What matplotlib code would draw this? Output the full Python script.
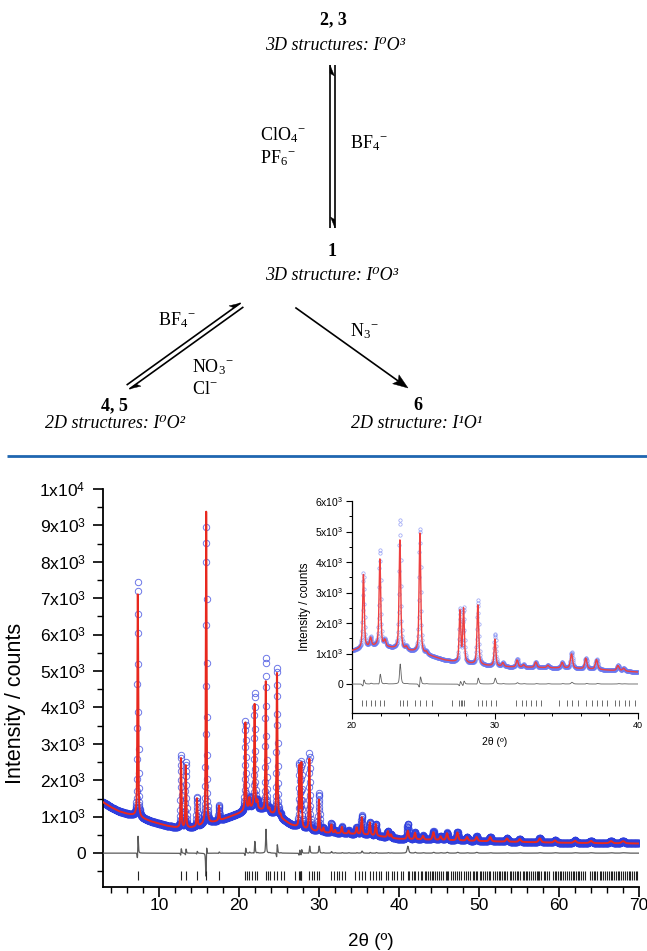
import numpy as np
import matplotlib
matplotlib.use('Agg')
import matplotlib.pyplot as plt
from matplotlib.patches import Polygon
from matplotlib.ticker import MultipleLocator

plt.rcParams['font.family'] = ['Liberation Sans', 'DejaVu Sans']
plt.rcParams['mathtext.fontset'] = 'custom'
plt.rcParams['mathtext.rm'] = 'Liberation Serif'
plt.rcParams['mathtext.it'] = 'Liberation Serif:italic'
plt.rcParams['mathtext.bf'] = 'Liberation Serif:bold'
plt.rcParams['mathtext.sf'] = 'Liberation Sans'

# ---------------- data ----------------
# background of the pattern (2theta, counts)
bg_x = [3, 4, 5, 6, 7, 8, 9, 10, 11, 12, 13, 14, 15, 16, 17, 18, 19, 20, 21,
        21.8, 22.5, 23.5, 24.5, 25.5, 26.5, 27.5, 28.5, 29.5, 31, 33, 35, 37,
        40, 45, 50, 55, 60, 65, 70]
bg_y = [1400, 1260, 1150, 1080, 1030, 950, 870, 810, 750, 710, 690, 700, 740,
        800, 860, 930, 1010, 1090, 1200, 1250, 1200, 1120, 1050, 920, 780, 700,
        650, 600, 560, 540, 520, 480, 390, 360, 330, 305, 285, 272, 265]

# reflections: position, calculated height, observed height (above background), FWHM
peak_pos = [7.35, 12.75, 13.35, 14.75, 15.90, 17.50, 20.80, 21.30, 21.95, 22.30,
            23.35, 23.80, 24.75, 25.20, 27.55, 27.80, 28.80, 30.00, 30.55, 31.55,
            32.00, 32.85, 33.70, 34.70, 35.35, 36.35, 37.10, 38.60, 39.00, 41.10,
            42.00, 43.00, 44.30, 45.20, 46.00, 47.30, 48.50, 49.70, 51.40, 53.50,
            55.10, 57.60, 59.50, 62.00, 64.00, 66.50, 68.00]
peak_calc = [6250, 1950, 1750, 780, 8580, 400, 2400, 280, 2900, 200,
             3650, 100, 4000, 80, 1700, 1750, 1950, 880, 120, 230,
             80, 180, 80, 180, 470, 350, 320, 170, 90, 230,
             180, 100, 210, 100, 190, 220, 100, 110, 120, 90,
             80, 110, 60, 60, 60, 60, 60]
peak_obs = [6500, 2000, 1800, 800, 8200, 420, 2450, 300, 3150, 210,
            4250, 110, 4100, 90, 1720, 1780, 2100, 1060, 130, 270,
            90, 190, 90, 190, 520, 360, 330, 180, 95, 420,
            200, 110, 230, 110, 210, 240, 110, 130, 130, 100,
            90, 120, 70, 70, 70, 70, 70]
peak_fwhm = [0.12, 0.12, 0.12, 0.12, 0.12, 0.13, 0.13, 0.15, 0.13, 0.15,
             0.13, 0.15, 0.13, 0.15, 0.13, 0.13, 0.14, 0.14, 0.16, 0.16,
             0.16, 0.17, 0.17, 0.18, 0.18, 0.18, 0.19, 0.2, 0.2, 0.22,
             0.22, 0.25, 0.25, 0.25, 0.26, 0.26, 0.28, 0.28, 0.3, 0.3,
             0.32, 0.34, 0.35, 0.38, 0.4, 0.42, 0.45]

# Bragg reflection marks
bragg = [7.35, 12.75, 13.35, 14.75, 15.9, 17.5,
         20.7, 20.95, 21.3, 21.6, 21.95, 22.25, 23.35, 23.6, 23.85, 24.4, 24.75,
         25.2, 25.6, 27.0, 27.5, 27.6, 27.7, 27.8, 28.8, 29.1, 29.4, 29.7, 30.05,
         31.5, 31.9, 32.2, 32.5, 32.85, 33.2, 34.5, 35.0, 35.35, 35.8, 36.35,
         36.8, 37.1, 37.5, 37.8, 38.4, 38.65, 39.1, 39.4, 39.8,
         40.3, 40.55, 41.1, 41.25, 41.6, 41.9, 42.0, 42.35, 42.7, 42.85, 43.2,
         43.4, 43.65, 43.9, 44.1, 44.3, 44.55, 44.8, 45.05, 45.3, 45.45, 45.85,
         46.0, 46.15, 46.55, 46.8, 47.0, 47.3, 47.45, 47.7, 48.1, 48.4, 48.6,
         48.85, 49.2, 49.35, 49.6, 49.8, 50.15, 50.3, 50.5, 50.8, 51.05, 51.25,
         51.4, 51.75, 51.95, 52.2, 52.45, 52.6, 52.9, 53.15, 53.3, 53.5, 53.85,
         54.05, 54.2, 54.5, 54.75, 54.9, 55.1, 55.45, 55.6, 55.85, 56.05, 56.3,
         56.5, 56.75, 56.95, 57.2, 57.4, 57.55, 57.8, 58.1, 58.3, 58.55, 58.7,
         59.25, 59.45, 59.6, 59.9, 60.15, 60.3, 60.55, 60.8, 61.0, 61.2, 61.5,
         61.7, 61.9, 62.15, 62.4, 62.55, 62.8, 63.05, 63.25, 63.9, 64.15, 64.4,
         64.55, 64.8, 65.1, 65.3, 65.5, 65.75, 66.0, 66.2, 66.45, 66.6, 66.9,
         67.1, 67.35, 67.5, 67.8, 68.0, 68.2, 68.45, 68.7, 68.9, 69.1, 69.35,
         69.6, 69.8]

ytick_vals = [0, 1000, 2000, 3000, 4000, 5000, 6000, 7000, 8000, 9000, 10000]
ytick_labels = ['0'] + [r'$\mathsf{%dx10}^{\mathsf{3}}$' % i for i in range(1, 10)] + \
               [r'$\mathsf{1x10}^{\mathsf{4}}$']
inset_ytick_vals = [0, 1000, 2000, 3000, 4000, 5000, 6000]
inset_ytick_labels = ['0'] + [r'$\mathsf{%dx10}^{\mathsf{3}}$' % i for i in range(1, 7)]

# ---------------- build the pattern ----------------
step = 0.02
shift = 0.004
tt = np.round(np.arange(3.0, 70.0 + step / 2, step), 4)


def pv(dx, w, eta=0.55):
    hw = w / 2.0
    lor = 1.0 / (1.0 + (dx / hw) ** 2)
    gau = np.exp(-np.log(2) * (dx / hw) ** 2)
    return eta * lor + (1 - eta) * gau


background = np.interp(tt, bg_x, bg_y)
calc = background.copy()
obs = background.copy()
for p, hc, ho, w in zip(peak_pos, peak_calc, peak_obs, peak_fwhm):
    calc += hc * pv(tt - p, w)
    obs += ho * pv(tt - p - shift, w)
diff = obs - calc

# ---------------- figure ----------------
W, H = 647, 951
fig = plt.figure(figsize=(W / 100, H / 100), dpi=100)

# scheme overlay (pixel coordinates)
sch = fig.add_axes([0, 0, 1, 1])
sch.set_xlim(0, W)
sch.set_ylim(H, 0)
sch.axis('off')

serif = ['Liberation Serif', 'DejaVu Serif']
fs = 13
sch.text(333, 20, '2, 3', ha='center', va='center', fontsize=fs, fontweight='bold', family=serif)
sch.text(335, 46, '3D structures: I\u2070O\u00b3', ha='center', va='center', fontsize=fs,
         style='italic', family=serif)
sch.text(260, 135, r'$\mathrm{ClO}_{4}{}^{-}$', ha='left', va='center', fontsize=fs)
sch.text(260, 158, r'$\mathrm{PF}_{6}{}^{-}$', ha='left', va='center', fontsize=fs)
sch.text(350, 143, r'$\mathrm{BF}_{4}{}^{-}$', ha='left', va='center', fontsize=fs)
sch.text(332, 252, '1', ha='center', va='center', fontsize=fs, fontweight='bold', family=serif)
sch.text(332, 275, '3D structure: I\u2070O\u00b3', ha='center', va='center', fontsize=fs,
         style='italic', family=serif)
sch.text(158, 320, r'$\mathrm{BF}_{4}{}^{-}$', ha='left', va='center', fontsize=fs)
sch.text(192, 367, r'$\mathrm{NO}_{3}{}^{-}$', ha='left', va='center', fontsize=fs)
sch.text(192, 390, r'$\mathrm{Cl}^{-}$', ha='left', va='center', fontsize=fs)
sch.text(350, 331, r'$\mathrm{N}_{3}{}^{-}$', ha='left', va='center', fontsize=fs)
sch.text(114, 406, '4, 5', ha='center', va='center', fontsize=fs, fontweight='bold', family=serif)
sch.text(115, 424, '2D structures: I\u2070O\u00b2', ha='center', va='center', fontsize=fs,
         style='italic', family=serif)
sch.text(418, 406, '6', ha='center', va='center', fontsize=fs, fontweight='bold', family=serif)
sch.text(417, 424, '2D structure: I\u00b9O\u00b9', ha='center', va='center', fontsize=fs,
         style='italic', family=serif)


def harpoon(p0, p1, side, L=11, Wd=4.5, lw=1.2):
    p0 = np.array(p0, float)
    p1 = np.array(p1, float)
    u = (p1 - p0) / np.linalg.norm(p1 - p0)
    n = np.array([-u[1], u[0]]) * side
    sch.plot([p0[0], p1[0]], [p0[1], p1[1]], color='black', lw=lw, solid_capstyle='butt')
    tri = [p1, p1 - L * u + Wd * n, p1 - 0.75 * L * u]
    sch.add_patch(Polygon(tri, closed=True, color='black', lw=0.3))


def full_arrow(p0, p1, L=15, Wd=5.5, lw=1.2):
    p0 = np.array(p0, float)
    p1 = np.array(p1, float)
    u = (p1 - p0) / np.linalg.norm(p1 - p0)
    n = np.array([-u[1], u[0]])
    q = p1 - 0.8 * L * u
    sch.plot([p0[0], q[0]], [p0[1], q[1]], color='black', lw=lw)
    tri = [p1, p1 - L * u + Wd * n, q, p1 - L * u - Wd * n]
    sch.add_patch(Polygon(tri, closed=True, color='black', lw=0.3))


# vertical equilibrium arrows
harpoon((330, 228), (330, 65), side=1)     # up, barb on left
harpoon((335, 65), (335, 228), side=1)     # down, barb on right
# left diagonal equilibrium
a0 = np.array([128.0, 387.0])
a1 = np.array([242.0, 305.0])
uu = (a1 - a0) / np.linalg.norm(a1 - a0)
nn = np.array([uu[1], -uu[0]])  # points up-left
harpoon(a0 + 2.4 * nn, a1 + 2.4 * nn, side=-1)
harpoon(a1 - 2.4 * nn, a0 - 2.4 * nn, side=-1)
# right arrow
full_arrow((296, 308), (408, 388))

# separator line
sch.plot([7, W], [456, 456], color='#1f66b0', lw=2.0, solid_capstyle='butt')

# ---------------- main pattern axes ----------------
ax = fig.add_axes([103 / W, (H - 887) / H, (639 - 103) / W, (887 - 489) / H])
ax.plot(tt, obs, 'o', mfc='none', mec='#2e3ede', ms=4.6, mew=0.7, alpha=0.7, zorder=2)
ax.plot(tt, calc, '-', color='#e8281e', lw=1.4, zorder=3)
ax.plot(tt, diff, '-', color='#5a5a5a', lw=0.9, zorder=3)
ax.vlines(bragg, -740, -480, color='#222222', lw=0.8, zorder=3)
ax.set_xlim(3, 70)
ax.set_ylim(-930, 10000)
for s in ('top', 'right'):
    ax.spines[s].set_visible(False)
for s in ('left', 'bottom'):
    ax.spines[s].set_linewidth(1.3)
ax.set_xticks([10, 20, 30, 40, 50, 60, 70])
ax.xaxis.set_minor_locator(MultipleLocator(2))
ax.set_yticks(ytick_vals)
ax.set_yticklabels(ytick_labels)
ax.yaxis.set_minor_locator(MultipleLocator(500))
ax.tick_params(which='major', direction='out', length=7, width=1.2, labelsize=12.5)
ax.tick_params(axis='x', which='major', pad=1)
ax.tick_params(axis='y', which='major', pad=5.5)
ax.tick_params(which='minor', direction='out', length=4, width=1.0)
ax.set_ylabel('Intensity / counts', fontsize=15.5)
ax.yaxis.set_label_coords(-0.143, 0.462)
ax.set_xlabel('2\u03b8 (\u00ba)', fontsize=13.5)
ax.xaxis.set_label_coords(0.5, -0.136)
ax.xaxis.label.set_verticalalignment('center')

# ---------------- inset ----------------
ins = fig.add_axes([352 / W, (H - 713) / H, (638 - 352) / W, (713 - 501) / H])
ins.patch.set_alpha(0)
m = (tt >= 20) & (tt <= 40)
ins.plot(tt[m], obs[m], 'o', mfc='none', mec='#6a78f0', ms=2.4, mew=0.5, alpha=0.7, zorder=2)
ins.plot(tt[m], calc[m], '-', color='#ee4040', lw=1.0, zorder=3)
ins.plot(tt[m], diff[m], '-', color='#606060', lw=0.6, zorder=3)
ins.vlines([b for b in bragg if 20 <= b <= 40], -720, -530, color='#333333', lw=0.5)
ins.set_xlim(20, 40)
ins.set_ylim(-950, 6000)
for s in ('top', 'right'):
    ins.spines[s].set_visible(False)
for s in ('left', 'bottom'):
    ins.spines[s].set_linewidth(0.9)
ins.set_xticks([20, 30, 40])
ins.xaxis.set_minor_locator(MultipleLocator(2))
ins.set_yticks(inset_ytick_vals)
ins.set_yticklabels(inset_ytick_labels)
ins.yaxis.set_minor_locator(MultipleLocator(500))
ins.tick_params(which='major', direction='out', length=4, width=0.8, pad=2)
ins.tick_params(axis='y', which='major', labelsize=7.5)
ins.tick_params(axis='x', which='major', labelsize=6.5)
ins.tick_params(which='minor', direction='out', length=2.5, width=0.7)
ins.set_ylabel('Intensity / counts', fontsize=8.5, labelpad=3)
ins.set_xlabel('2\u03b8 (\u00ba)', fontsize=7.5, labelpad=5)

fig.savefig('out.png', dpi=100)
